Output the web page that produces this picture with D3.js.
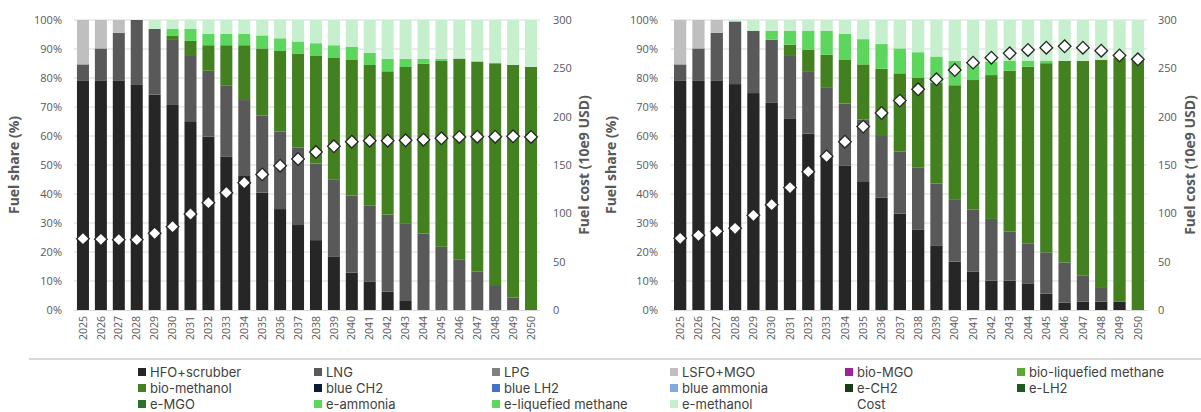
<!DOCTYPE html>
<html>
<head>
<meta charset="utf-8">
<script src="https://cdn.jsdelivr.net/npm/d3@7"></script>
<style>
body { margin: 0; background: #fff; }
svg { display: block; font-family: "Open Sans", sans-serif; }
</style>
</head>
<body>
<svg id="chart"></svg>
<script>
const years = d3.range(2025, 2051).map(String);

// legend entries (same order as the stacking)
const fuelNames = ["HFO+scrubber", "LNG", "LPG", "LSFO+MGO", "bio-MGO", "bio-liquefied methane",
    "bio-methanol", "blue CH2", "blue LH2", "blue ammonia", "e-CH2", "e-LH2",
    "e-MGO", "e-ammonia", "e-liquefied methane", "e-methanol"];
const fuelColors = ["#262626", "#595959", "#808080", "#bfbfbf", "#a0219a", "#5aa832",
    "#43801f", "#0e1c33", "#4472c4", "#7faadf", "#163e16", "#1e5a1e",
    "#2e6f2a", "#5cd65c", "#5cd65c", "#c6efce"];

// left scenario, fuel share (%)
const hfoA = [79.0, 79.0, 79.0, 77.6, 74.3, 70.7, 65.1, 59.8, 52.8, 46.2, 40.5, 34.8, 29.3, 24.1, 18.5, 12.9, 9.7, 6.3, 3.1, 0, 0, 0, 0, 0, 0, 0];
const lngA = [5.7, 11.2, 16.6, 22.4, 22.6, 22.7, 22.8, 22.7, 24.7, 26.2, 26.6, 26.7, 26.7, 26.4, 26.6, 26.6, 26.4, 26.6, 26.6, 26.4, 21.8, 17.5, 13.2, 8.6, 4.3, 0];
const lsfoA = [15.3, 9.8, 4.4, 0, 0, 0, 0, 0, 0, 0, 0, 0, 0, 0, 0, 0, 0, 0, 0, 0, 0, 0, 0, 0, 0, 0];
const bioMethA = [0, 0, 0, 0, 0, 1.1, 4.9, 8.8, 13.8, 18.9, 23.1, 27.8, 32.3, 37.1, 41.8, 46.9, 48.4, 49.4, 54.1, 58.5, 64.1, 69.2, 72.5, 76.5, 80.2, 83.8];
const eAmmA = [0, 0, 0, 0, 0, 2.4, 4.1, 4.0, 4.0, 4.0, 4.5, 4.4, 4.3, 4.4, 4.4, 4.4, 4.2, 4.3, 2.8, 1.7, 0.7, 0, 0, 0, 0, 0];
const eMethA = [0, 0, 0, 0, 3.1, 3.1, 3.1, 4.7, 4.7, 4.7, 5.3, 6.3, 7.4, 8.0, 8.7, 9.2, 11.3, 13.4, 13.4, 13.4, 13.4, 13.3, 14.3, 14.9, 15.5, 16.2];
const costA = [73.8, 73.1, 72.8, 72.8, 79.3, 86.2, 99.3, 111.0, 121.4, 131.7, 140.3, 149.3, 156.2, 163.4, 169.3, 174.1, 175.2, 175.2, 175.5, 176.2, 177.6, 179.0, 179.3, 179.3, 179.7, 179.0];

// right scenario, fuel share (%)
const hfoB = [79.0, 79.0, 79.0, 77.9, 74.8, 71.6, 66.1, 60.8, 52.9, 49.7, 44.4, 38.7, 33.2, 27.8, 22.3, 16.7, 13.3, 10.1, 10.1, 9.0, 5.6, 2.5, 2.9, 2.9, 2.9, 0];
const lngB = [5.7, 11.2, 16.6, 21.6, 21.5, 21.6, 21.5, 21.3, 23.7, 21.5, 21.3, 21.3, 21.4, 21.4, 21.3, 21.5, 21.4, 21.3, 16.9, 14.0, 14.3, 13.9, 8.9, 4.7, 0, 0];
const lsfoB = [15.3, 9.8, 4.4, 0, 0, 0, 0, 0, 0, 0, 0, 0, 0, 0, 0, 0, 0, 0, 0, 0, 0, 0, 0, 0, 0, 0];
const bioMethB = [0, 0, 0, 0, 0, 0, 3.9, 7.7, 11.4, 15.2, 19.0, 23.2, 27.0, 30.8, 34.8, 39.3, 44.6, 49.6, 55.5, 60.9, 65.2, 69.5, 74.1, 78.7, 84.1, 86.2];
const eAmmB = [0, 0, 0, 0, 0, 3.1, 4.8, 6.5, 8.3, 8.8, 8.7, 8.5, 8.6, 8.9, 9.0, 8.4, 5.5, 4.6, 3.5, 2.1, 0.9, 0, 0, 0, 0, 0];
const eMethB = [0, 0, 0, 0.5, 3.7, 3.7, 3.7, 3.7, 3.7, 4.8, 6.6, 8.3, 9.8, 11.1, 12.6, 14.1, 15.2, 14.4, 14.0, 14.0, 14.0, 14.1, 14.1, 13.7, 13.0, 13.8];
const costB = [74.1, 77.2, 81.4, 84.5, 97.9, 109.0, 126.6, 143.1, 159.0, 174.1, 189.7, 203.8, 216.6, 228.3, 238.6, 248.3, 255.9, 261.0, 265.5, 269.0, 271.4, 272.8, 271.4, 268.3, 263.4, 259.3];

const shareTicks = d3.range(0, 101, 10);
const costTicks = d3.range(0, 301, 50);

const width = 1201;
const height = 412;
const plotTop = 20, plotBottom = 310;
const textGray = "#595959";

const svg = d3.select('#chart').attr('width', width).attr('height', height);

function buildRows(hfo, lng, lsfo, bioMeth, eAmm, eMeth) {
    return years.map((y, i) => ({
        year: y,
        "HFO+scrubber": hfo[i],
        "LNG": lng[i],
        "LSFO+MGO": lsfo[i],
        "bio-methanol": bioMeth[i],
        "e-ammonia": eAmm[i],
        "e-methanol": eMeth[i]
    }));
}

function drawPanel(rows, cost, left, right, leftLabelX, rightLabelX, leftTitleX, rightTitleX) {
    const g = svg.append('g');
    const x = d3.scaleBand().domain(years).range([left, right]).paddingInner(0.33).paddingOuter(0.165);
    const y = d3.scaleLinear().domain([0, 100]).range([plotBottom, plotTop]);
    const yCost = d3.scaleLinear().domain([0, 300]).range([plotBottom, plotTop]);

    // gridlines
    g.append('g')
        .selectAll('line')
        .data(shareTicks.filter(d => d > 0))
        .enter()
        .append('line')
        .attr('x1', left).attr('x2', right)
        .attr('y1', d => y(d)).attr('y2', d => y(d))
        .attr('stroke', '#d9d9d9')
        .attr('stroke-width', 1);

    const keys = ["HFO+scrubber", "LNG", "LSFO+MGO", "bio-methanol", "e-ammonia", "e-methanol"];
    const stacked = d3.stack().keys(keys)(rows);
    g.append('g')
        .selectAll('g')
        .data(stacked)
        .enter()
        .append('g')
        .attr('fill', d => fuelColors[fuelNames.indexOf(d.key)])
        .selectAll('rect')
        .data(d => d)
        .enter()
        .append('rect')
        .attr('x', d => x(d.data.year))
        .attr('width', x.bandwidth())
        .attr('y', d => y(d[1]))
        .attr('height', d => Math.max(0, y(d[0]) - y(d[1])));

    // left axis
    const ax = g.append('g')
        .attr('transform', `translate(${leftLabelX},0)`)
        .call(d3.axisLeft(y).tickValues(shareTicks).tickFormat(d => d + '%').tickSize(0).tickPadding(0));
    ax.select('.domain').remove();
    ax.selectAll('text').attr('fill', textGray).style('font-size', '11px').style('font-family', '"Open Sans", sans-serif');

    // right axis
    const axR = g.append('g')
        .attr('transform', `translate(${rightLabelX},0)`)
        .call(d3.axisRight(yCost).tickValues(costTicks).tickSize(0).tickPadding(0));
    axR.select('.domain').remove();
    axR.selectAll('text').attr('fill', textGray).style('font-size', '11px').style('font-family', '"Open Sans", sans-serif');

    // x axis
    const axX = g.append('g')
        .attr('transform', `translate(0,${plotBottom})`)
        .call(d3.axisBottom(x).tickSize(0));
    axX.select('.domain').attr('stroke', '#d9d9d9').attr('d', `M${left},0.5H${right}`);
    axX.selectAll('text')
        .attr('fill', textGray)
        .style('font-size', '10.5px')
        .style('font-family', '"Open Sans", sans-serif')
        .attr('x', -6)
        .attr('y', 0)
        .attr('dy', '0.35em')
        .attr('transform', 'rotate(-90)')
        .style('text-anchor', 'end');

    // axis titles
    g.append('text')
        .attr('transform', `translate(${leftTitleX},165) rotate(-90)`)
        .attr('text-anchor', 'middle')
        .attr('font-size', '14px')
        .attr('font-weight', 'bold')
        .attr('fill', textGray)
        .text('Fuel share (%)');
    g.append('text')
        .attr('transform', `translate(${rightTitleX},165) rotate(-90)`)
        .attr('text-anchor', 'middle')
        .attr('font-size', '14px')
        .attr('font-weight', 'bold')
        .attr('fill', textGray)
        .text('Fuel cost (10e9 USD)');

    // cost markers
    g.append('g')
        .selectAll('path')
        .data(cost)
        .enter()
        .append('path')
        .attr('d', d3.symbol().type(d3.symbolSquare).size(80))
        .attr('transform', (d, i) => `translate(${x(years[i]) + x.bandwidth() / 2},${yCost(d)}) rotate(45)`)
        .attr('fill', '#fff')
        .attr('stroke', '#262626')
        .attr('stroke-width', 1.3);
}

drawPanel(buildRows(hfoA, lngA, lsfoA, bioMethA, eAmmA, eMethA), costA, 74, 540, 62, 553, 19, 589);
drawPanel(buildRows(hfoB, lngB, lsfoB, bioMethB, eAmmB, eMethB), costB, 671, 1147, 658, 1158, 616, 1195);

// separator above legend
svg.append('line')
    .attr('x1', 29).attr('x2', width)
    .attr('y1', 359).attr('y2', 359)
    .attr('stroke', '#d9d9d9')
    .attr('stroke-width', 2);

// legend
const legendX = [138, 314, 492, 670, 845, 1017];
const legendY = [372, 388, 404];
const legendItems = fuelNames.map((n, i) => ({ name: n, color: fuelColors[i] })).concat([{ name: 'Cost', color: null }]);
const legend = svg.append('g').style('font-family', 'Inter, sans-serif');
legendItems.forEach((item, i) => {
    const lx = legendX[i % 6];
    const ly = legendY[Math.floor(i / 6)];
    if (item.color) {
        legend.append('rect')
            .attr('x', lx)
            .attr('y', ly - 4)
            .attr('width', 8)
            .attr('height', 8)
            .attr('fill', item.color);
    }
    legend.append('text')
        .attr('x', lx + 12)
        .attr('y', ly)
        .attr('dy', '0.35em')
        .attr('font-size', '13px')
        .attr('fill', '#404040')
        .text(item.name);
});
</script>
</body>
</html>
